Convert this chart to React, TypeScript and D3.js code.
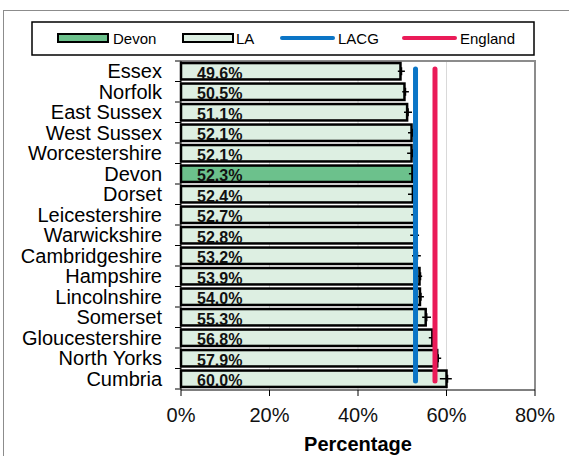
import * as d3 from "d3";

// Data
const areas = [
  "Essex", "Norfolk", "East Sussex", "West Sussex", "Worcestershire", "Devon",
  "Dorset", "Leicestershire", "Warwickshire", "Cambridgeshire", "Hampshire",
  "Lincolnshire", "Somerset", "Gloucestershire", "North Yorks", "Cumbria",
];
const values = [49.6, 50.5, 51.1, 52.1, 52.1, 52.3, 52.4, 52.7, 52.8, 53.2, 53.9, 54.0, 55.3, 56.8, 57.9, 60.0];
const ciLow = [49.0, 50.0, 50.4, 51.3, 51.1, 51.5, 51.3, 52.0, 51.8, 52.2, 53.3, 53.4, 54.5, 56.0, 57.6, 58.5];
const ciHigh = [50.6, 51.5, 52.2, 52.4, 52.4, 52.4, 52.4, 52.5, 53.8, 54.2, 54.5, 54.9, 56.5, 57.8, 58.8, 61.2];
const highlight = "Devon";
const lacg = 53.0;
const england = 57.4;
const xTicks = [0, 20, 40, 60, 80];
const legendItems = ["Devon", "LA", "LACG", "England"];

const W = 569;
const H = 456;
const font = "Liberation Sans, Arial, sans-serif";
const laFill = "#ddefe2";
const devonFill = "#6cc18c";
const blue = "#0b75c6";
const red = "#ea1b58";

export default function App() {
  const x = d3.scaleLinear().domain([0, 80]).range([181, 535]);
  const y = d3.scaleBand<string>().domain(areas).range([61, 389]).paddingInner(0.2).paddingOuter(0.1);
  const step = y.step();
  const bw = y.bandwidth();
  const [r0] = y.range();

  return (
    <div style={{ position: "absolute", left: 0, top: 0 }}>
      <svg width={W} height={H} style={{ display: "block", fontFamily: font }}>
        <rect x={0} y={0} width={W} height={H} fill="#fff" />
        {/* outer chart border */}
        <rect x={3.5} y={10.5} width={W + 10} height={H} fill="none" stroke="#8c8c8c" strokeWidth={1} />

        {/* legend */}
        <rect x={32} y={22} width={502} height={33} fill="#fff" stroke="#000" strokeWidth={1.5} />
        <rect x={58} y={34} width={50} height={8} fill={devonFill} stroke="#000" strokeWidth={2} />
        <text x={113} y={44} fontSize={15}>{legendItems[0]}</text>
        <rect x={183} y={34} width={50} height={8} fill={laFill} stroke="#000" strokeWidth={2} />
        <text x={236} y={44} fontSize={15}>{legendItems[1]}</text>
        <line x1={282} x2={333} y1={38} y2={38} stroke={blue} strokeWidth={4} strokeLinecap="round" />
        <text x={338} y={44} fontSize={15}>{legendItems[2]}</text>
        <line x1={404} x2={455} y1={38} y2={38} stroke={red} strokeWidth={4} strokeLinecap="round" />
        <text x={460} y={44} fontSize={15}>{legendItems[3]}</text>

        {/* gridlines */}
        {xTicks.slice(1, -1).map((t) => (
          <line key={t} x1={x(t)} x2={x(t)} y1={61} y2={390} stroke="#d9d9d9" strokeWidth={1} />
        ))}
        {/* plot border top/right */}
        <polyline points={`${x(0)},61 ${x(80)},61 ${x(80)},390`} fill="none" stroke="#8c8c8c" strokeWidth={2} />

        {/* bars */}
        {areas.map((a, i) => {
          const y0 = y(a)!;
          const cy = y0 + bw / 2;
          return (
            <g key={a}>
              <rect
                x={x(0)}
                y={y0}
                width={x(values[i]) - x(0)}
                height={bw}
                fill={a === highlight ? devonFill : laFill}
                stroke="#000"
                strokeWidth={2.5}
              />
              <text x={197} y={y0 + bw - 0.5} fontSize={16} fontWeight="bold" fill="#111">
                {values[i].toFixed(1)}%
              </text>
              <line x1={x(ciLow[i])} x2={x(ciHigh[i])} y1={cy} y2={cy} stroke="#000" strokeWidth={1.5} />
              <line x1={x(values[i]) + 1} x2={x(values[i]) + 1} y1={cy - 4} y2={cy + 4} stroke="#000" strokeWidth={1.5} />
            </g>
          );
        })}

        {/* reference lines */}
        <line x1={x(lacg)} x2={x(lacg)} y1={69} y2={381} stroke={blue} strokeWidth={5} strokeLinecap="round" />
        <line x1={x(england)} x2={x(england)} y1={69} y2={381} stroke={red} strokeWidth={5} strokeLinecap="round" />

        {/* y axis */}
        <line x1={x(0)} x2={x(0)} y1={61} y2={390} stroke="#000" strokeWidth={1} />
        {d3.range(areas.length + 1).map((k) => (
          <line key={k} x1={x(0) - 6} x2={x(0)} y1={r0 + k * step} y2={r0 + k * step} stroke="#000" strokeWidth={1} />
        ))}
        {areas.map((a) => (
          <text key={a} x={162} y={y(a)! + bw / 2 + 7} fontSize={20} textAnchor="end" fill="#000">
            {a}
          </text>
        ))}

        {/* x axis */}
        <line x1={x(0)} x2={x(80)} y1={390} y2={390} stroke="#000" strokeWidth={1} />
        {xTicks.map((t) => (
          <g key={t}>
            <line x1={x(t)} x2={x(t)} y1={390} y2={396} stroke="#000" strokeWidth={1} />
            <text x={x(t)} y={422} fontSize={20} textAnchor="middle" fill="#111">
              {t}%
            </text>
          </g>
        ))}
        <text x={x(40)} y={451} fontSize={20} fontWeight="bold" textAnchor="middle">
          Percentage
        </text>
      </svg>
    </div>
  );
}
